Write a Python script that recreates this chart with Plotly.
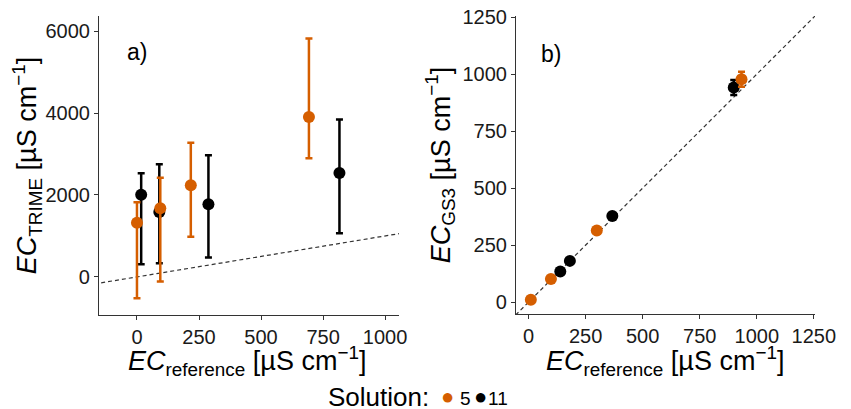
import plotly.graph_objects as go

# ---- data ----
# panel a: EC_TRIME vs EC_reference
a_ref_5 = [0, 94, 217, 693]
a_trime_5 = [1324, 1675, 2236, 3902]
a_err_up_5 = [498, 748, 1040, 1919]
a_err_dn_5 = [1844, 1790, 1253, 1007]

a_ref_11 = [17, 90, 288, 816]
a_trime_11 = [2007, 1585, 1773, 2537]
a_err_up_11 = [522, 1163, 1195, 1309]
a_err_dn_11 = [1697, 1251, 1302, 1471]

# panel b: EC_GS3 vs EC_reference
b_ref_5 = [10, 98, 299, 933]
b_gs3_5 = [10, 102, 314, 978]
b_err_5 = [4, 4, 5, 33]

b_ref_11 = [139, 181, 367, 899]
b_gs3_11 = [134, 181, 378, 941]
b_err_11 = [4, 4, 5, 33]

line_a = [-200, 1100]
line_b = [-100, 1300]

a_yticks = [0, 2000, 4000, 6000]
a_xticks = [0, 250, 500, 750, 1000]
b_ticks = [0, 250, 500, 750, 1000, 1250]

legend_title = "Solution:"
legend_names = ["5", "11"]

ORANGE = "#D55E00"
BLACK = "#000000"
AX = "#333333"
FONT = "Liberation Sans"

fig = go.Figure()

# 1:1 lines
fig.add_trace(go.Scatter(x=line_a, y=line_a, mode="lines", xaxis="x", yaxis="y",
                         line=dict(color=AX, width=1.2, dash="4px,3px"), showlegend=False, hoverinfo="skip"))
fig.add_trace(go.Scatter(x=line_b, y=line_b, mode="lines", xaxis="x2", yaxis="y2",
                         line=dict(color=AX, width=1.2, dash="4px,3px"), showlegend=False, hoverinfo="skip"))

# panel a
fig.add_trace(go.Scatter(x=a_ref_11, y=a_trime_11, mode="markers", xaxis="x", yaxis="y", name="11",
                         marker=dict(color=BLACK, size=12),
                         error_y=dict(type="data", symmetric=False, array=a_err_up_11, arrayminus=a_err_dn_11,
                                      color=BLACK, thickness=2.5, width=3.5),
                         showlegend=False))
fig.add_trace(go.Scatter(x=a_ref_5, y=a_trime_5, mode="markers", xaxis="x", yaxis="y", name="5",
                         marker=dict(color=ORANGE, size=12),
                         error_y=dict(type="data", symmetric=False, array=a_err_up_5, arrayminus=a_err_dn_5,
                                      color=ORANGE, thickness=2.5, width=3.5),
                         showlegend=False))
# panel b
fig.add_trace(go.Scatter(x=b_ref_11, y=b_gs3_11, mode="markers", xaxis="x2", yaxis="y2", name="11",
                         marker=dict(color=BLACK, size=12),
                         error_y=dict(type="data", array=b_err_11, color=BLACK, thickness=2.5, width=3.5),
                         showlegend=False))
fig.add_trace(go.Scatter(x=b_ref_5, y=b_gs3_5, mode="markers", xaxis="x2", yaxis="y2", name="5",
                         marker=dict(color=ORANGE, size=12),
                         error_y=dict(type="data", array=b_err_5, color=ORANGE, thickness=2.5, width=3.5),
                         showlegend=False))

# page offset compensation (body margin of 8px)
OFF = 8
W, H = 851 - OFF, 409 - OFF
def px_x(p):
    return (p - OFF) / W
def px_y(p):
    return 1 - (p - OFF) / H

axis_common = dict(showgrid=False, zeroline=False, showline=True, linecolor=AX, linewidth=1.1,
                   ticks="outside", ticklen=4, tickwidth=1.1, tickcolor=AX, ticklabeloverflow="allow",
                   tickfont=dict(family=FONT, size=20, color="#1a1a1a"), automargin=False)

title_font = dict(family=FONT, size=27, color="#000000")
xtitle = "<i>EC</i><sub>reference</sub> [µS cm<sup>−1</sup>]"

def ann(text, x, y, size, xanchor="center", color="#000000"):
    return dict(text=text, xref="paper", yref="paper", x=px_x(x), y=px_y(y), xanchor=xanchor,
                yanchor="middle", showarrow=False, font=dict(family=FONT, size=size, color=color))

fig.update_layout(
    width=W, height=H,
    margin=dict(l=0, r=0, t=0, b=0),
    paper_bgcolor="white", plot_bgcolor="white",
    font=dict(family=FONT, color="#000000"),
    showlegend=False,
    xaxis=dict(domain=[px_x(99), px_x(399)], range=[-153, 1056], tickvals=a_xticks,
               anchor="y", **axis_common),
    yaxis=dict(domain=[px_y(315), px_y(16)], range=[-930, 6370], tickvals=a_yticks,
               title=dict(text="<i>EC</i><sub>TRIME</sub> [µS cm<sup>−1</sup>]", font=title_font, standoff=4),
               anchor="x", **axis_common),
    xaxis2=dict(domain=[px_x(516), px_x(815)], range=[-55, 1255], tickvals=b_ticks,
                anchor="y2", **axis_common),
    yaxis2=dict(domain=[px_y(314), px_y(16)], range=[-52, 1255], tickvals=b_ticks,
                title=dict(text="<i>EC</i><sub>GS3</sub> [µS cm<sup>−1</sup>]", font=title_font, standoff=4),
                anchor="x2", **axis_common),
    annotations=[
        dict(text="a)", xref="x domain", yref="y domain", x=0.127, y=0.88, xanchor="center", yanchor="middle",
             showarrow=False, font=dict(family=FONT, size=23, color="#000000")),
        dict(text="b)", xref="x2 domain", yref="y2 domain", x=0.117, y=0.872, xanchor="center", yanchor="middle",
             showarrow=False, font=dict(family=FONT, size=23, color="#000000")),
        # x-axis titles
        ann(xtitle, 247.5, 361, 27),
        ann(xtitle, 665, 361, 27),
        # legend
        ann(legend_title, 431, 397, 26, xanchor="right"),
        ann("●", 447.5, 396, 22, color=ORANGE),
        ann(legend_names[0], 458, 398, 19, xanchor="left"),
        ann("●", 480.5, 396, 22, color=BLACK),
        ann(legend_names[1], 486, 398, 19, xanchor="left"),
    ],
)

fig.write_html("out.html")
